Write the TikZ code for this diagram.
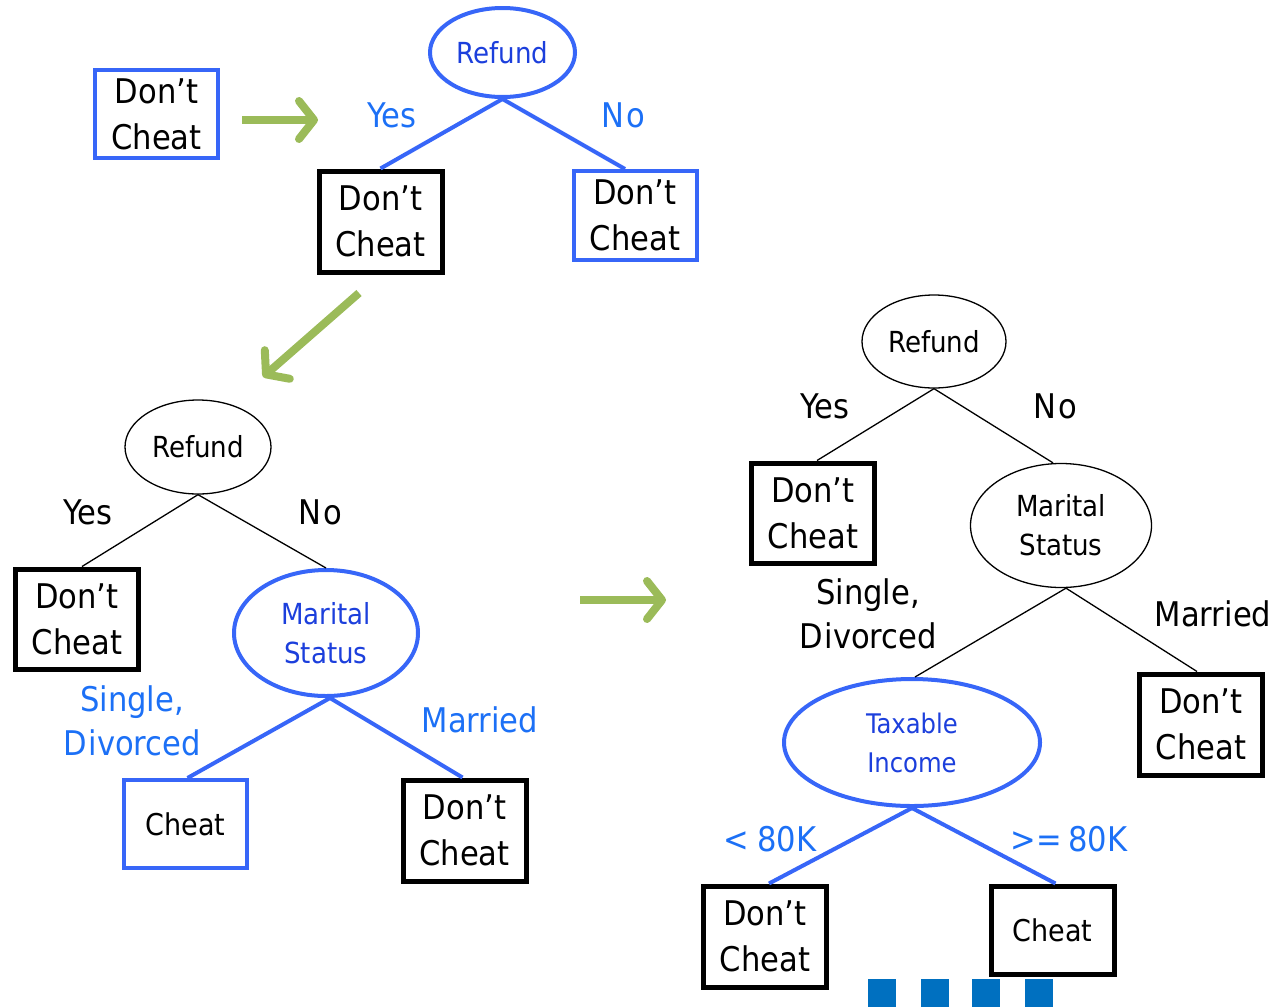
\documentclass[tikz,border=0pt]{standalone}
\usepackage{fontspec}
\setmainfont{DejaVu Sans Condensed}
\usetikzlibrary{shapes.geometric,arrows.meta}
\definecolor{edgeblue}{HTML}{3766F8}
\definecolor{textblue}{HTML}{1C3FDC}
\definecolor{labelblue}{HTML}{1C70F6}
\definecolor{arrowgreen}{HTML}{9BBB59}
\definecolor{dotblue}{HTML}{0070C0}
\tikzset{
  leafbig/.style={rectangle, inner sep=0pt, align=center,
    font=\fontsize{34}{46}\selectfont, minimum width=#1},
  leafbig/.default=123,
  blackleaf/.style={leafbig=#1, draw=black, line width=5pt},
  blackleaf/.default=123,
  blueleaf/.style={leafbig=#1, draw=edgeblue, line width=4pt},
  blueleaf/.default=123,
  testnode/.style={ellipse, inner sep=0pt, align=center},
  blacktest/.style={testnode, draw=black, line width=1.3pt},
  bluetest/.style={testnode, draw=edgeblue, line width=4pt, text=textblue},
  blackedge/.style={draw=black, line width=1.3pt},
  blueedge/.style={draw=edgeblue, line width=4pt},
  branch/.style={font=\fontsize{34}{40}\selectfont, inner sep=0pt},
  bluebranch/.style={branch, text=labelblue},
  stepper/.style={draw=arrowgreen, line width=8pt,
    -{Straight Barb[length=15pt, width=38pt, round]}},
  testfont/.style={font=\fontsize{29}{39}\selectfont},
  smallfont/.style={font=\fontsize{27}{39}\selectfont},
  cheatfont/.style={font=\fontsize{30}{39}\selectfont},
}
\begin{document}
\begin{tikzpicture}[x=1pt, y=-1pt]
\useasboundingbox (0,0) rectangle (1281,1007);

% ---------- step 1: a single leaf, then the first split ----------
\node[blueleaf, minimum height=88] (leaf0) at (156.5,114) {Don’t\\Cheat};
\coordinate (g1s) at (242,120);
\coordinate (g1e) at (318,120);
\draw[stepper] (g1s) -- (g1e);

\node[bluetest, minimum width=145, minimum height=89, testfont] (r1) at (502.5,52.5) {Refund};
\node[blackleaf, minimum height=101] (r1yes) at (380.5,221.5) {Don’t\\Cheat};
\node[blueleaf, minimum height=89] (r1no) at (635,215.5) {Don’t\\Cheat};
\draw[blueedge] (r1.south) -- (r1yes.north);
\draw[blueedge] (r1.south) -- ([xshift=-10pt]r1no.north);
\node[bluebranch] (r1ly) at (392,115) {Yes};
\node[bluebranch] (r1ln) at (623,115) {N\kern2pt o};

\coordinate (g2s) at (359,293);
\coordinate (g2e) at (263,377);
\draw[stepper] (g2s) -- (g2e);

% ---------- step 2: splitting on marital status ----------
\node[blacktest, minimum width=146, minimum height=94, testfont] (r2) at (198,447) {Refund};
\node[blackleaf, minimum height=100] (r2yes) at (77,619) {Don’t\\Cheat};
\node[bluetest, minimum width=184, minimum height=126, testfont] (m2) at (326,633) {Marital\\Status};
\draw[blackedge] (r2.south) -- ([xshift=5pt]r2yes.north);
\draw[blackedge] (r2.south) -- (m2.north);
\node[branch] (r2ly) at (88,512) {Yes};
\node[branch] (r2ln) at (320,512) {N\kern2pt o};

\node[blueleaf, minimum height=88, cheatfont] (m2sd) at (185.5,824) {Cheat};
\node[blackleaf, minimum height=101] (m2mar) at (464.5,830.5) {Don’t\\Cheat};
\draw[blueedge] ([xshift=4pt]m2.south) -- ([xshift=2pt]m2sd.north);
\draw[blueedge] ([xshift=4pt]m2.south) -- ([xshift=-2pt]m2mar.north);
\node[bluebranch, align=center, font=\fontsize{34}{44}\selectfont] (m2lsd) at (132,721) {Single,\\D\kern2pt ivorced};
\node[bluebranch] (m2lm) at (480,720) {Married};

\coordinate (g3s) at (580,600);
\coordinate (g3e) at (666,600);
\draw[stepper] (g3s) -- (g3e);

% ---------- step 3: splitting on taxable income ----------
\node[blacktest, minimum width=144, minimum height=93, testfont] (r3) at (934,341.5) {Refund};
\node[blackleaf, minimum height=100] (r3yes) at (813,513) {Don’t\\Cheat};
\node[blacktest, minimum width=181, minimum height=124, testfont] (m3) at (1061,525.5) {Marital\\Status};
\draw[blackedge] (r3.south) -- ([xshift=4pt]r3yes.north);
\draw[blackedge] (r3.south) -- ([xshift=-8pt]m3.north);
\node[branch] (r3ly) at (825,406) {Yes};
\node[branch] (r3ln) at (1055,406) {N\kern2pt o};

\node[bluetest, minimum width=256, minimum height=127, smallfont] (t3) at (912,742.5) {Taxable\\Income};
\node[blackleaf, minimum height=101] (m3mar) at (1201,724.5) {Don’t\\Cheat};
\draw[blackedge] ([xshift=5pt]m3.south) -- ([xshift=3pt]t3.north);
\draw[blackedge] ([xshift=5pt]m3.south) -- ([xshift=-4pt]m3mar.north);
\node[branch, align=center, font=\fontsize{34}{44}\selectfont] (m3lsd) at (868,614) {Single,\\D\kern2pt ivorced};
\node[branch] (m3lm) at (1213,614) {Married};

\node[blackleaf, minimum height=101] (t3lo) at (765,936.5) {Don’t\\Cheat};
\node[blackleaf, minimum height=88, cheatfont] (t3hi) at (1052.5,930) {Cheat};
\draw[blueedge] (t3.south) -- ([xshift=4pt]t3lo.north);
\draw[blueedge] (t3.south) -- ([xshift=3pt]t3hi.north);
\node[bluebranch] (t3llo) at (770,839) {<\kern8pt 80K};
\node[bluebranch] (t3lhi) at (1069,839) {>=\kern6pt 80K};

% continuation marks at the foot
\foreach \xx in {868,921,972,1025}
  \fill[dotblue] (\xx,979) rectangle ++(28,28);
\end{tikzpicture}
\end{document}
